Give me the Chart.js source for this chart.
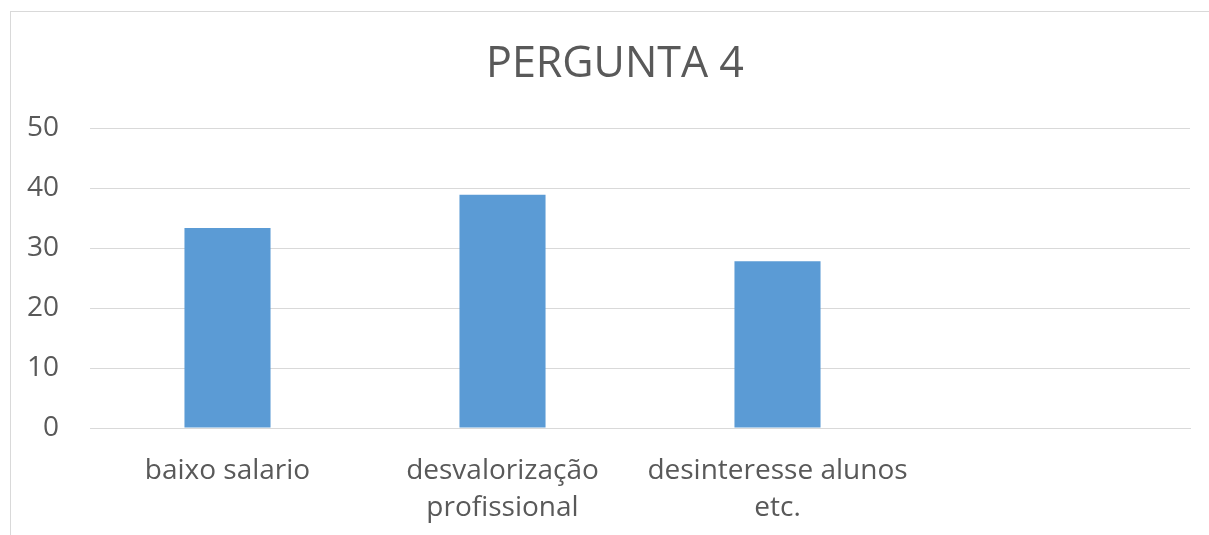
<!DOCTYPE html>
<html>
<head>
<meta charset="utf-8">
<script src="https://cdn.jsdelivr.net/npm/chart.js@4"></script>
<style>
  html, body { margin: 0; padding: 0; background: #ffffff; overflow: hidden; }
  #frame { position: absolute; left: 10px; top: 11px; width: 1240px; height: 560px; border: 1px solid #d9d9d9; box-sizing: border-box; }
  #wrap { position: absolute; left: 0; top: 0; width: 1209px; height: 535px; }
</style>
</head>
<body>
<div id="frame"></div>
<div id="wrap"><canvas id="c"></canvas></div>
<script>
const chartTitle = 'PERGUNTA 4';
const categories = [['baixo salario'], ['desvalorização', 'profissional'], ['desinteresse alunos', 'etc.'], ''];
const values = [33.33, 38.89, 27.78, null];
const yTicks = [0, 10, 20, 30, 40, 50];

const FONT = "'Open Sans', sans-serif";
const TXT = '#595959';
const GRID = '#d9d9d9';

// center the title over the visible chart frame (x 10..1220) like the original
const titleShift = {
  id: 'titleShift',
  afterLayout(chart) {
    if (chart.titleBlock) { chart.titleBlock.left += 30; }
  }
};

new Chart(document.getElementById('c'), {
  type: 'bar',
  data: {
    labels: categories,
    datasets: [{
      data: values,
      backgroundColor: '#5b9bd5',
      borderWidth: 0,
      barPercentage: 0.313,
      categoryPercentage: 1.0
    }]
  },
  plugins: [titleShift],
  options: {
    responsive: true,
    maintainAspectRatio: false,
    animation: false,
    layout: { padding: { left: 10, right: 19, top: 0, bottom: 0 } },
    plugins: {
      legend: { display: false },
      tooltip: { enabled: false },
      title: {
        display: true,
        text: chartTitle,
        color: TXT,
        font: { family: FONT, size: 43, weight: 'normal' },
        padding: { top: 39, bottom: 37.4 }
      }
    },
    scales: {
      x: {
        grid: { display: false, drawTicks: false },
        border: { display: true, color: GRID, width: 1 },
        ticks: {
          color: TXT,
          font: { family: FONT, size: 28, lineHeight: 1.32 },
          padding: 25,
          maxRotation: 0,
          autoSkip: false
        },
        afterFit: (s) => { s.height = 107; }
      },
      y: {
        min: 0,
        max: 50,
        afterBuildTicks: (s) => { s.ticks = yTicks.map(v => ({ value: v })); },
        grid: { color: GRID, lineWidth: 1, drawTicks: false },
        border: { display: false },
        ticks: {
          color: TXT,
          font: { family: FONT, size: 28 },
          padding: 31
        },
        afterFit: (s) => { s.width = 80; }
      }
    }
  }
});
</script>
</body>
</html>
